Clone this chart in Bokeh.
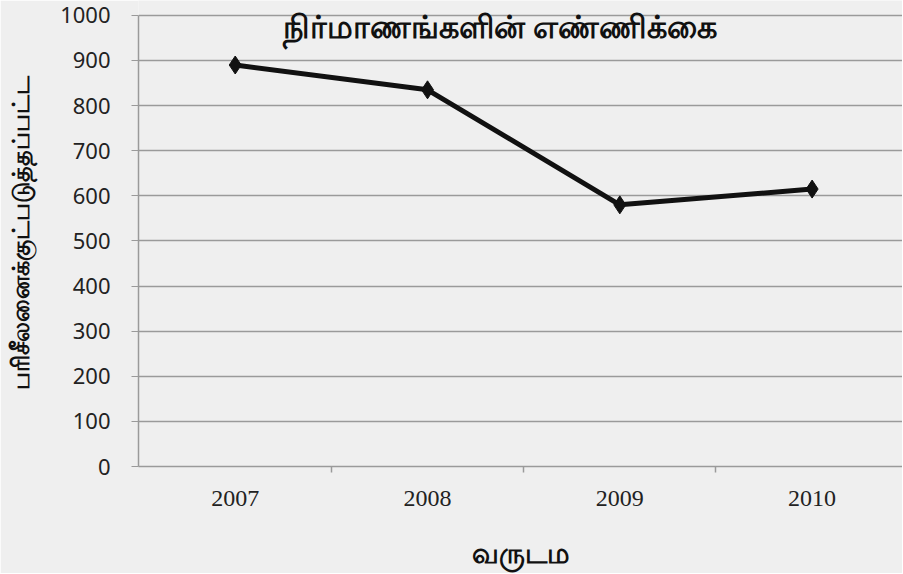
from bokeh.plotting import figure
from bokeh.models import FixedTicker, Label, Range1d
from bokeh.embed import file_html
from bokeh.resources import INLINE

years = [2007, 2008, 2009, 2010]
counts = [890, 835, 580, 615]
y_ticks = list(range(0, 1001, 100))
title_text = "நிர்மாணங்களின் எண்ணிக்கை"
x_label = "வருடம"
y_label = "பரிசீலனைக்குட்படுத்தப்பட்ட"

BG = "#efefef"
GRID = "#9a9a9a"

p = figure(width=902, height=573, output_backend="svg", toolbar_location=None,
           x_range=Range1d(2006.497, 2010.47), y_range=Range1d(0, 1033),
           min_border_left=135, min_border_right=0, min_border_top=0,
           min_border_bottom=106)
p.background_fill_color = BG
p.border_fill_color = BG
p.outline_line_color = None

# grid
p.xgrid.visible = False
p.ygrid.ticker = FixedTicker(ticks=y_ticks)
p.ygrid.grid_line_color = GRID
p.ygrid.grid_line_width = 1.5

# y axis
p.yaxis.ticker = FixedTicker(ticks=y_ticks)
p.yaxis.bounds = (0, 1000)
p.yaxis.axis_line_color = GRID
p.yaxis.axis_line_width = 1.5
p.yaxis.major_tick_out = 7
p.yaxis.major_tick_in = 0
p.yaxis.major_tick_line_color = GRID
p.yaxis.minor_tick_line_color = None
p.yaxis.major_label_standoff = 21
p.yaxis.major_label_text_font = "Noto Sans"
p.yaxis.major_label_text_font_size = "22px"
p.yaxis.major_label_text_color = "#222222"
p.yaxis.axis_label = y_label
p.yaxis.axis_label_text_font = "Noto Sans"
p.yaxis.axis_label_text_font_size = "24px"
p.yaxis.axis_label_text_font_style = "bold"
p.yaxis.axis_label_text_color = "#111111"
p.yaxis.axis_label_standoff = 21

# x axis
mids = [(a + b) / 2 for a, b in zip(years, years[1:])]
p.xaxis.ticker = FixedTicker(ticks=years, minor_ticks=mids)
p.xaxis.axis_line_color = GRID
p.xaxis.axis_line_width = 1.5
p.xaxis.major_tick_out = 0
p.xaxis.major_tick_in = 0
p.xaxis.minor_tick_out = 6
p.xaxis.minor_tick_in = 0
p.xaxis.minor_tick_line_color = GRID
p.xaxis.minor_tick_line_width = 1.5
p.xaxis.major_label_standoff = 18
p.xaxis.major_label_text_font = "Liberation Serif"
p.xaxis.major_label_text_font_size = "24px"
p.xaxis.major_label_text_color = "#222222"
p.xaxis.axis_label = x_label
p.xaxis.axis_label_text_font = "Noto Sans"
p.xaxis.axis_label_text_font_size = "28px"
p.xaxis.axis_label_text_font_style = "bold"
p.xaxis.axis_label_text_color = "#111111"
p.xaxis.axis_label_standoff = 24

# data
p.line(years, counts, line_color="#111111", line_width=5)
p.scatter(years, counts, marker="diamond", size=18, fill_color="#111111",
          line_color="#111111")

# title overlapping the top grid line
p.add_layout(Label(x=2008.376, y=978, text=title_text, text_align="center",
                   text_baseline="middle", text_font="Noto Sans",
                   text_font_size="32px", text_font_style="bold",
                   text_color="#111111"))

open("out.html", "w").write(file_html(p, INLINE))
